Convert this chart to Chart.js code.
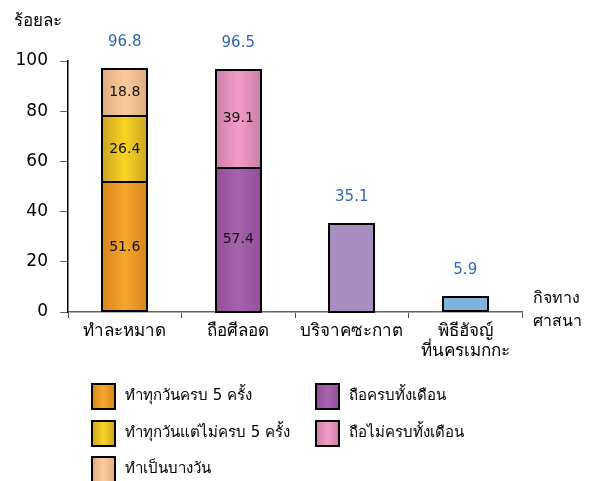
<!DOCTYPE html>
<html>
<head>
<meta charset="utf-8">
<script src="https://cdn.jsdelivr.net/npm/chart.js@4"></script>
<style>
html,body{margin:0;padding:0;background:#fff;}
#wrap{position:relative;width:591px;height:481px;}
</style>
</head>
<body>
<div id="wrap"><canvas id="c" width="591" height="481"></canvas></div>
<script>
const categories = [['ทำละหมาด'], ['ถือศีลอด'], ['บริจาคซะกาต'], ['พิธีฮัจญ์', 'ที่นครเมกกะ']];
const prayFull = [51.6, null, null, null];
const prayPartial = [26.4, null, null, null];
const praySome = [18.8, null, null, null];
const fastFull = [null, 57.4, null, null];
const fastPartial = [null, 39.1, null, null];
const zakat = [null, null, 35.1, null];
const hajj = [null, null, null, 5.9];
const totals = [96.8, 96.5, 35.1, 5.9];
const yTicks = [0, 20, 40, 60, 80, 100];
const yTitle = 'ร้อยละ';
const xTitle = ['กิจทาง', 'ศาสนา'];

const FONT = "Tahoma, 'DejaVu Sans', 'Noto Sans', sans-serif";

function grad(mid, edge) {
  return function (ctx) {
    const chart = ctx.chart;
    const xs = chart.scales && chart.scales.x;
    if (!xs || ctx.dataIndex === undefined || !chart.chartArea) return mid;
    const cx = xs.getPixelForValue(ctx.dataIndex);
    const w = (xs.width / categories.length) * 0.4;
    if (!isFinite(cx)) return mid;
    const g = chart.ctx.createLinearGradient(cx - w / 2, 0, cx + w / 2, 0);
    g.addColorStop(0, edge);
    g.addColorStop(0.5, mid);
    g.addColorStop(1, edge);
    return g;
  };
}

const ds = (label, data, mid, edge, legend, inner) => ({
  label, data,
  backgroundColor: grad(mid, edge),
  borderWidth: 0,
  stack: 's',
  legendItem: legend,
  innerLabel: inner,
  legendMid: mid, legendEdge: edge
});

const datasets = [
  ds('ทำทุกวันครบ 5 ครั้ง', prayFull, '#F8A52C', '#D6861C', true, true),
  ds('ทำทุกวันแต่ไม่ครบ 5 ครั้ง', prayPartial, '#FAD423', '#C9A420', true, true),
  ds('ทำเป็นบางวัน', praySome, '#FBCB9C', '#DDAC80', true, true),
  ds('ถือครบทั้งเดือน', fastFull, '#A862AE', '#924F98', true, true),
  ds('ถือไม่ครบทั้งเดือน', fastPartial, '#F49CC8', '#C97FA6', true, true),
  ds('บริจาคซะกาต', zakat, '#A68EC0', '#A68EC0', false, false),
  ds('พิธีฮัจญ์ที่นครเมกกะ', hajj, '#80B4DA', '#80B4DA', false, false)
];

const labelsPlugin = {
  id: 'labelsPlugin',
  afterDatasetsDraw(chart) {
    const c = chart.ctx;
    c.save();
    // outlines
    c.strokeStyle = '#000';
    c.lineWidth = 2;
    chart.data.datasets.forEach((d, i) => {
      const meta = chart.getDatasetMeta(i);
      meta.data.forEach((el, j) => {
        const v = d.data[j];
        if (v === null || v === undefined) return;
        const top = Math.min(el.y, el.base), h = Math.abs(el.base - el.y);
        c.strokeRect(Math.round(el.x - el.width / 2), Math.round(top), Math.round(el.width), Math.round(h));
      });
    });
    c.textAlign = 'center';
    c.textBaseline = 'middle';
    c.font = '14px ' + FONT;
    c.fillStyle = '#111';
    chart.data.datasets.forEach((d, i) => {
      if (!d.innerLabel) return;
      const meta = chart.getDatasetMeta(i);
      meta.data.forEach((el, j) => {
        const v = d.data[j];
        if (v === null || v === undefined) return;
        c.fillText(v.toFixed(1), el.x, (el.y + el.base) / 2);
      });
    });
    const xs = chart.scales.x, ys = chart.scales.y;
    c.font = '15px ' + FONT;
    c.fillStyle = '#2F66B3';
    totals.forEach((t, j) => {
      c.fillText(t.toFixed(1), xs.getPixelForValue(j), ys.getPixelForValue(t) - 27);
    });
    // axis titles
    c.fillStyle = '#000';
    c.font = '17px ' + FONT;
    c.textAlign = 'left';
    c.fillText(yTitle, 14, 22);
    c.font = '16px ' + FONT;
    c.fillText(xTitle[0], 533, 299);
    c.fillText(xTitle[1], 533, 322);
    // legend
    const pos = [[92, 396], [92, 433], [92, 469], [316, 396], [316, 433]];
    let k = 0;
    c.font = '15px ' + FONT;
    chart.data.datasets.forEach((d) => {
      if (!d.legendItem) return;
      const [lx, ly] = pos[k++];
      const g = c.createLinearGradient(lx, 0, lx + 23, 0);
      g.addColorStop(0, d.legendEdge);
      g.addColorStop(0.5, d.legendMid);
      g.addColorStop(1, d.legendEdge);
      c.fillStyle = g;
      c.fillRect(lx, ly - 12, 23, 25);
      c.strokeStyle = '#000';
      c.lineWidth = 2;
      c.strokeRect(lx, ly - 12, 23, 25);
      c.fillStyle = '#000';
      c.fillText(d.label, lx + 33, ly);
    });
    c.restore();
  }
};

new Chart(document.getElementById('c'), {
  type: 'bar',
  data: { labels: categories, datasets },
  options: {
    responsive: false,
    animation: false,
    devicePixelRatio: 1,
    barPercentage: 0.4,
    categoryPercentage: 1,
    layout: { padding: { left: 0, top: 61, right: 69, bottom: 0 } },
    plugins: { legend: { display: false }, tooltip: { enabled: false } },
    scales: {
      x: {
        stacked: true,
        afterFit(s) { s.height = 169; },
        grid: { offset: true, drawOnChartArea: false, drawTicks: true, tickLength: 6, color: '#555', lineWidth: 1 },
        border: { color: '#666', width: 1.5 },
        ticks: { color: '#000', font: { family: FONT, size: 17 }, padding: 3, maxRotation: 0, autoSkip: false }
      },
      y: {
        stacked: true,
        min: 0, max: 100,
        afterFit(s) { s.width = 68; },
        afterBuildTicks(s) { s.ticks = yTicks.map(v => ({ value: v })); },
        grid: { drawOnChartArea: false, drawTicks: true, tickLength: 8, color: '#666' },
        border: { color: '#000', width: 1.5 },
        ticks: { color: '#000', font: { family: FONT, size: 17 }, padding: 12 }
      }
    }
  },
  plugins: [labelsPlugin]
});
</script>
</body>
</html>
